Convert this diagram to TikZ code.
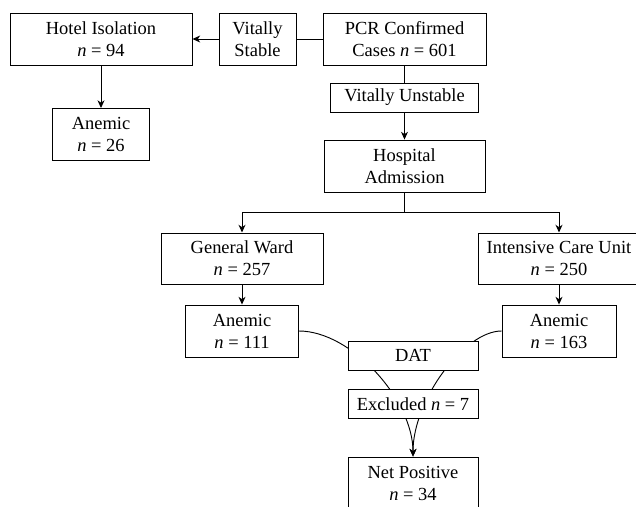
\documentclass[tikz,border=0pt]{standalone}
\usepackage{fontspec}
\setmainfont{Liberation Serif}
\usepackage{tikz}
\usetikzlibrary{arrows.meta}

\begin{document}
\begin{tikzpicture}[x=0.65pt, y=-0.65pt,
        >={Stealth[length=5pt, width=4.5pt, inset=1.5pt]},
        box/.style={draw, line width=0.6pt, fill=white, align=center, inner sep=0pt,
            minimum height=33.8pt, font=\fontsize{12}{14.3}\selectfont},
        slim/.style={box, minimum height=18.9pt},
        link/.style={line width=0.6pt}]
        \useasboundingbox (0, 0) rectangle (636, 506);

        \node[box, minimum width=118.3pt] (hotel) at (101, 39) {Hotel Isolation\\\textit{n} = 94};
        \node[box, minimum width=50pt] (stable) at (257.5, 39) {Vitally\\Stable};
        \node[box, minimum width=106pt] (pcr) at (404.5, 39) {PCR Confirmed\\Cases \textit{n} = 601};
        \node[box, minimum width=63pt] (anemA) at (101, 134.5) {Anemic\\\textit{n} = 26};

        \draw[link, ->] (stable.west) -- (hotel.east);
        \draw[link] (pcr.west) -- (stable.east);
        \draw[link, ->] (hotel) -- (anemA);

        %%%

        \node[slim, minimum width=96.2pt] (unstable) at (404.5, 97.5) {Vitally Unstable};
        \node[box, minimum width=104.7pt] (hosp) at (404.5, 166) {Hospital\\Admission};

        \draw[link] (pcr) -- (unstable);
        \draw[link, ->] (unstable) -- (hosp);

        %%%

        \node[box, minimum width=105.3pt, minimum height=33.2pt] (ward) at (242, 258.5) {General Ward\\\textit{n} = 257};
        \node[box, minimum width=105.3pt, minimum height=33.2pt] (icu) at (559, 258.5) {Intensive Care Unit\\\textit{n} = 250};

        \draw[link, ->] (hosp.south) -- ++(0, 20) -| (ward.north);
        \draw[link, ->] (hosp.south) -- ++(0, 20) -| (icu.north);

        \node[box, minimum width=73.5pt] (anemB) at (242, 331) {Anemic\\\textit{n} = 111};
        \node[box, minimum width=74.1pt] (anemC) at (559, 331) {Anemic\\\textit{n} = 163};

        \draw[link, ->] (ward) -- (anemB);
        \draw[link, ->] (icu) -- (anemC);

        %%%

        \node[box, minimum width=84.5pt] (net) at (413, 483) {Net Positive\\\textit{n} = 34};

        \draw[link, ->] (anemB.east) .. controls +(52, 0) and +(0, -57) .. (net.north);
        \draw[link, ->] (anemC.west) .. controls +(-37, 0) and +(0, -57) .. (net.north);

        \node[slim, minimum width=84.5pt] (dat) at (413, 355.5) {DAT};
        \node[slim, minimum width=84.5pt] (excl) at (413, 404) {Excluded \textit{n} = 7};
    \end{tikzpicture}
\end{document}
